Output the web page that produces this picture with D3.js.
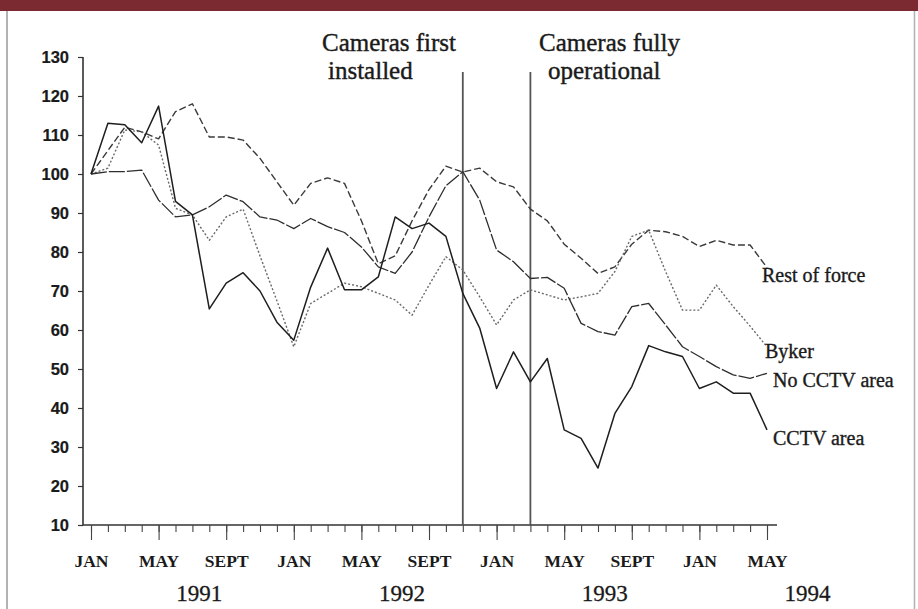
<!DOCTYPE html>
<html>
<head>
<meta charset="utf-8">
<script src="https://cdn.jsdelivr.net/npm/d3@7"></script>
<style>
  html, body { margin: 0; padding: 0; background: #fff; }
  svg { display: block; }
</style>
</head>
<body>
<svg id="chart" width="918" height="609"></svg>
<script>
// ---- DATA ----
const months = [
  "Jan 1991","Feb 1991","Mar 1991","Apr 1991","May 1991","Jun 1991","Jul 1991","Aug 1991","Sep 1991","Oct 1991","Nov 1991","Dec 1991",
  "Jan 1992","Feb 1992","Mar 1992","Apr 1992","May 1992","Jun 1992","Jul 1992","Aug 1992","Sep 1992","Oct 1992","Nov 1992","Dec 1992",
  "Jan 1993","Feb 1993","Mar 1993","Apr 1993","May 1993","Jun 1993","Jul 1993","Aug 1993","Sep 1993","Oct 1993","Nov 1993","Dec 1993",
  "Jan 1994","Feb 1994","Mar 1994","Apr 1994","May 1994"
];
const restOfForce = [100,106,112,110.8,109,116,118,109.5,109.5,108.7,104,98,
  92,97.6,99,97.6,88,77,79,88,96,102,100.5,101.5,
  98,96.7,91,88,82,78.4,74.5,76.2,82,85.6,85.2,84,
  81.4,83,81.8,81.8,76];
const byker = [100,101.5,111.3,110.8,107.4,91.2,89.5,83,89,91,79,67.5,
  55.7,66.8,69.4,72,71.1,69.4,67.7,63.8,71.5,78.8,75.4,68.5,
  61.3,67.7,70.3,69,67.7,68.5,69.4,75,84,85.6,75,65.1,
  65.1,71.5,66,61,55.7];
const noCCTV = [100,100.6,100.6,101,93.3,89,89.5,91.6,94.6,92.9,89,88.2,
  86,88.6,86.5,85,81.3,76.2,74.5,80,89,97,100.6,93.3,
  80.5,77.5,73.2,73.5,70.7,61.7,59.6,58.7,66,66.8,61.3,55.7,
  53.2,50.6,48.5,47.6,48.9];
const cctv = [100,113,112.6,108,117.4,93,89.5,65.4,72,74.7,70,62,
  57.4,71,81,70.3,70.3,73.6,89,86,87.4,84,69.4,60.5,
  45,54.4,46.7,52.7,34.4,32.2,24.6,38.6,45.5,56,54.4,53.2,
  45,46.7,43.8,43.8,34.4];
const seriesNames = ["Rest of force","Byker","No CCTV area","CCTV area"];
const yTicks = [10,20,30,40,50,60,70,80,90,100,110,120,130];
const majorMonths = ["Jan 1991","May 1991","Sep 1991","Jan 1992","May 1992","Sep 1992","Jan 1993","May 1993","Sep 1993","Jan 1994","May 1994"];
const majorLabels = ["JAN","MAY","SEPT","JAN","MAY","SEPT","JAN","MAY","SEPT","JAN","MAY"];
const years = ["1991","1992","1993","1994"];
const events = ["Nov 1992","Mar 1993"];
const eventLabels = [["Cameras first","installed"],["Cameras fully","operational"]];

// ---- CHART ----
const svg = d3.select("#chart");
const serif = "'Liberation Serif','Times New Roman',serif";
const sans = "'Liberation Sans',Arial,sans-serif";
const ink = "#1a1a1a";

// frame
svg.append("rect").attr("x",0).attr("y",0).attr("width",918).attr("height",11).attr("fill","#7b2a31");
svg.append("line").attr("x1",7).attr("x2",7).attr("y1",11).attr("y2",609).attr("stroke","#9a9a9a").attr("stroke-width",1.5);
svg.append("line").attr("x1",914.5).attr("x2",914.5).attr("y1",11).attr("y2",609).attr("stroke","#b0b0b0").attr("stroke-width",1.5);

const x = d3.scaleLinear().domain([0, months.length - 1]).range([91, 767]);
const y = d3.scaleLinear().domain([10, 130]).range([525, 57]);
const xi = m => x(months.indexOf(m));

// y axis
const yAxis = svg.append("g").attr("transform","translate(83,0)")
  .call(d3.axisLeft(y).tickValues(yTicks).tickSize(5).tickPadding(9).tickFormat(d3.format("d")));
yAxis.attr("font-size", null).attr("font-family", null);
yAxis.select(".domain").attr("stroke","#333").attr("stroke-width",1.6).attr("d","M0,57V525");
yAxis.selectAll(".tick line").attr("stroke","#333").attr("stroke-width",1.2);
yAxis.selectAll(".tick text")
  .style("font-family",sans).style("font-weight","bold").style("font-size","16.5px")
  .attr("fill",ink).attr("stroke",ink).attr("stroke-width",0.2);

// x axis: minor ticks every month
const xMinor = svg.append("g").attr("transform","translate(0,525)")
  .call(d3.axisBottom(x).tickValues(d3.range(months.length)).tickSize(7).tickFormat(""));
xMinor.select(".domain").attr("stroke","#333").attr("stroke-width",1.6).attr("d","M83,0H777");
xMinor.selectAll(".tick line").attr("stroke","#444").attr("stroke-width",1.1);

// x axis: major ticks with labels
const majorIdx = majorMonths.map(m => months.indexOf(m));
const xMajor = svg.append("g").attr("transform","translate(0,525)")
  .call(d3.axisBottom(x).tickValues(majorIdx).tickSize(15).tickPadding(15)
    .tickFormat((d,i) => majorLabels[i]));
xMajor.attr("font-size", null).attr("font-family", null);
xMajor.select(".domain").remove();
xMajor.selectAll(".tick line").attr("stroke","#444").attr("stroke-width",1.1);
xMajor.selectAll(".tick text")
  .style("font-family",serif).style("font-weight","bold").style("font-size","17.5px")
  .attr("fill",ink);

// year labels
svg.append("g").selectAll("text").data(years).join("text")
  .attr("x",(d,i) => x(6.4 + 12*i))
  .attr("y",601)
  .attr("text-anchor","middle")
  .style("font-family",serif).style("font-size","23px").attr("fill",ink)
  .attr("stroke",ink).attr("stroke-width",0.3)
  .text(d => d);

// event lines
svg.append("g").selectAll("line").data(events).join("line")
  .attr("x1",d => xi(d)).attr("x2",d => xi(d))
  .attr("y1",72).attr("y2",525)
  .attr("stroke","#555").attr("stroke-width",1.8);

// event annotations
const annX = [[322,328],[539,548]];
eventLabels.forEach((lines,k) => {
  lines.forEach((t,j) => {
    svg.append("text").attr("x",annX[k][j]).attr("y",51 + j*28)
      .style("font-family",serif).style("font-size","25px").attr("fill",ink)
      .attr("stroke",ink).attr("stroke-width",0.4)
      .text(t);
  });
});

// series lines
const seriesData = [restOfForce, byker, noCCTV, cctv];
const styles = [
  {stroke:"#3a3a3a", w:1.4, dash:"7,3"},
  {stroke:"#6a6a6a", w:1.4, dash:"2,2"},
  {stroke:"#2e2e2e", w:1.3, dash:"16,2"},
  {stroke:"#1e1e1e", w:1.5, dash:null}
];
const line = d3.line().x((d,i) => x(i)).y(d => y(d));
svg.append("g").selectAll("path").data(seriesData).join("path")
  .attr("d", d => line(d))
  .attr("fill","none")
  .attr("stroke",(d,i) => styles[i].stroke)
  .attr("stroke-width",(d,i) => styles[i].w)
  .attr("stroke-dasharray",(d,i) => styles[i].dash)
  .attr("stroke-linejoin","round");

// series labels
const labelPos = [[762,282],[765,358],[773,387],[773,445]];
svg.append("g").selectAll("text").data(seriesNames).join("text")
  .attr("x",(d,i) => labelPos[i][0]).attr("y",(d,i) => labelPos[i][1])
  .style("font-family",serif).style("font-size","20px").attr("fill",ink)
  .attr("stroke",ink).attr("stroke-width",0.35)
  .text(d => d);
</script>
</body>
</html>
